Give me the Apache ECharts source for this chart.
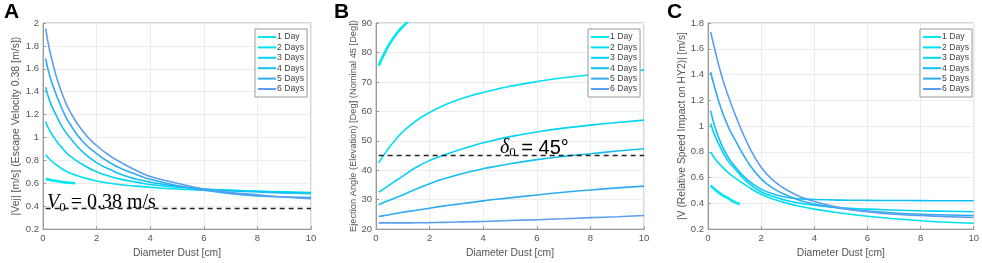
<!DOCTYPE html>
<html lang="en">
<head>
    <meta charset="UTF-8">
    <script src="https://cdn.jsdelivr.net/npm/echarts@6/dist/echarts.min.js"></script>
    <title>Dust ejection</title>
    <style>
        body { margin: 0; background: #fff; }
    </style>
</head>
<body>
<div id="main" style="width: 982px;height:263px;"></div>
<script type="text/javascript">

    // legend names and colours
    var dayNames = ['1 Day', '2 Days', '3 Days', '4 Days', '5 Days', '6 Days'];
    var dayColors = ['#00e8f0', '#00def2', '#00d4f4', '#12c0f2', '#30aaf0', '#5c9ef0'];

    // shared x (diameter, cm)
    var xShort = [0.1, 0.25, 0.5, 0.75, 1, 1.2];
    var xLong = [0.1, 0.25, 0.5, 0.75, 1, 1.5, 2, 2.5, 3, 3.5, 4, 5, 6, 7, 8, 9, 10];

    // A: |Vej| [m/s]
    var velA1 = [0.64, 0.63, 0.62, 0.61, 0.605, 0.6];
    var velA2 = [0.85, 0.81, 0.76, 0.72, 0.69, 0.65, 0.62, 0.6, 0.585, 0.575, 0.565, 0.55, 0.54, 0.535, 0.53, 0.525, 0.52];
    var velA3 = [1.14, 1.06, 0.97, 0.9, 0.84, 0.76, 0.7, 0.66, 0.63, 0.61, 0.59, 0.565, 0.55, 0.54, 0.53, 0.52, 0.515];
    var velA4 = [1.44, 1.32, 1.19, 1.08, 1.0, 0.87, 0.78, 0.72, 0.67, 0.635, 0.61, 0.575, 0.55, 0.535, 0.525, 0.515, 0.51];
    var velA5 = [1.69, 1.54, 1.37, 1.23, 1.12, 0.96, 0.86, 0.78, 0.72, 0.675, 0.635, 0.58, 0.54, 0.51, 0.49, 0.48, 0.475];
    var velA6 = [1.95, 1.76, 1.53, 1.36, 1.23, 1.05, 0.93, 0.84, 0.77, 0.71, 0.66, 0.6, 0.55, 0.52, 0.5, 0.48, 0.465];
    var escapeX = [0.1, 10];
    var escapeV = [0.38, 0.38];

    // B: ejection angle [deg]
    var angB1 = [75.5, 78.5, 82.8, 86.2, 88.8, 90.5];
    var angB2 = [42.5, 44.6, 47.8, 50.6, 53, 56.8, 59.6, 61.9, 63.7, 65.2, 66.4, 68.5, 70.1, 71.4, 72.4, 73.3, 74];
    var angB3 = [32.5, 33.4, 35, 36.5, 38, 41, 43.3, 45, 46.6, 48, 49.3, 51.4, 53, 54.3, 55.3, 56.2, 57];
    var angB4 = [28.3, 28.9, 29.8, 30.7, 31.6, 33.6, 35.4, 37, 38.3, 39.5, 40.5, 42.2, 43.6, 44.7, 45.6, 46.5, 47.3];
    var angB5 = [24.3, 24.5, 24.9, 25.3, 25.7, 26.4, 27.1, 27.8, 28.4, 29, 29.6, 30.6, 31.6, 32.5, 33.3, 34, 34.6];
    var angB6 = [22.1, 22.1, 22.1, 22.1, 22.1, 22.15, 22.2, 22.3, 22.4, 22.5, 22.6, 22.9, 23.2, 23.5, 23.9, 24.2, 24.6];
    var nominalX = [0.1, 10];
    var nominalA = [45, 45];

    // C: relative impact speed [m/s]
    var spdC1 = [0.54, 0.51, 0.47, 0.44, 0.41, 0.395];
    var spdC2 = [0.8, 0.75, 0.69, 0.64, 0.6, 0.53, 0.47, 0.43, 0.4, 0.375, 0.355, 0.325, 0.3, 0.28, 0.265, 0.253, 0.245];
    var spdC3 = [1.02, 0.93, 0.82, 0.73, 0.67, 0.56, 0.49, 0.45, 0.42, 0.4, 0.385, 0.365, 0.355, 0.348, 0.342, 0.338, 0.335];
    var spdC4 = [1.12, 1.0, 0.86, 0.76, 0.69, 0.58, 0.51, 0.47, 0.445, 0.435, 0.43, 0.425, 0.423, 0.422, 0.421, 0.42, 0.42];
    var spdC5 = [1.42, 1.3, 1.13, 1.0, 0.9, 0.72, 0.59, 0.51, 0.46, 0.42, 0.395, 0.36, 0.34, 0.325, 0.315, 0.31, 0.305];
    var spdC6 = [1.73, 1.6, 1.4, 1.24, 1.1, 0.86, 0.68, 0.57, 0.5, 0.45, 0.415, 0.365, 0.335, 0.315, 0.305, 0.297, 0.29];

    var panels = [
        { curves: [velA1, velA2, velA3, velA4, velA5, velA6], ref: escapeV, refX: escapeX,
          min: 0.2, max: 2, step: 0.2, name: '|Vej| [m/s] (Escape Velocity 0.38 [m/s])', left: 43, gap: 21, nameSize: 10.5 },
        { curves: [angB1, angB2, angB3, angB4, angB5, angB6], ref: nominalA, refX: nominalX,
          min: 20, max: 90, step: 10, name: 'Ejection Angle (Elevation) [Deg] (Nominal 45 [Deg])', left: 376, gap: 17, nameSize: 9.3 },
        { curves: [spdC1, spdC2, spdC3, spdC4, spdC5, spdC6], ref: null,
          min: 0.2, max: 1.8, step: 0.2, name: '|V (Relative Speed Impact on HY2)| [m/s]', left: 708, gap: 20, nameSize: 10.3 }
    ];

    var font = 'Liberation Sans, Arial, sans-serif';
    var grid = [], xAxis = [], yAxis = [], series = [], legend = [];

    function pairs(xs, ys) {
        return ys.map(function (y, i) { return [xs[i], y]; });
    }

    panels.forEach(function (p, k) {
        grid.push({ left: p.left, width: 268, top: 23, height: 212, show: true,
            borderColor: '#b0b0b0', borderWidth: 1, backgroundColor: '#fff' });
        xAxis.push({
            type: 'value', gridIndex: k, min: 0, max: 10, interval: 2,
            name: 'Diameter Dust [cm]', nameLocation: 'middle', nameGap: 15,
            nameTextStyle: { fontFamily: font, fontSize: 10.3, color: '#555' },
            axisLine: { lineStyle: { color: '#999' } },
            axisTick: { inside: true, length: 3, lineStyle: { color: '#999' } },
            axisLabel: { fontFamily: font, fontSize: 9.5, color: '#555', margin: 4 },
            splitLine: { show: true, lineStyle: { color: '#ececec' } }
        });
        yAxis.push({
            type: 'value', gridIndex: k, min: p.min, max: p.max, interval: p.step,
            name: p.name, nameLocation: 'middle', nameGap: p.gap,
            nameTextStyle: { fontFamily: font, fontSize: p.nameSize, color: '#555' },
            axisLine: { show: true, lineStyle: { color: '#999' } },
            axisTick: { show: true, inside: true, length: 3, lineStyle: { color: '#999' } },
            axisLabel: { fontFamily: font, fontSize: 9.5, color: '#555', margin: 4,
                formatter: function (v) { return String(Math.round(v * 10) / 10); } },
            splitLine: { show: true, lineStyle: { color: '#ececec' } }
        });
        p.curves.forEach(function (ys, d) {
            series.push({
                name: dayNames[d], type: 'line', xAxisIndex: k, yAxisIndex: k,
                data: pairs(d === 0 ? xShort : xLong, ys),
                smooth: 0.5, showSymbol: false, silent: true,
                clip: true, z: 3,
                lineStyle: { color: dayColors[d], width: d === 0 ? 2.6 : 1.6 },
                itemStyle: { color: dayColors[d] }
            });
        });
        if (p.ref) {
            series.push({
                name: 'ref', type: 'line', xAxisIndex: k, yAxisIndex: k,
                data: pairs(p.refX, p.ref), showSymbol: false, silent: true, z: 4,
                lineStyle: { color: '#222', width: 1.5, type: [5, 4] }
            });
        }
        legend.push({
            data: dayNames.map(function (n, d) {
                return { name: n, itemStyle: { color: dayColors[d] } };
            }),
            orient: 'vertical', left: p.left + 212, top: 29,
            itemWidth: 18, itemHeight: 2, itemGap: 0.4,
            icon: 'rect', selectedMode: false,
            backgroundColor: '#fff', borderColor: '#999', borderWidth: 1,
            padding: [3, 3, 3, 3],
            textStyle: { fontFamily: font, fontSize: 8.7, color: '#444', lineHeight: 10, padding: [0, 0, 0, -4] }
        });
    });

    var myChart = echarts.init(document.getElementById('main'));

    var option = {
        animation: false,
        grid: grid, xAxis: xAxis, yAxis: yAxis, series: series, legend: legend,
        graphic: [
            { type: 'text', left: 4, top: 2, style: { text: 'A', font: 'bold 21px ' + font, fill: '#000' } },
            { type: 'text', left: 334, top: 2, style: { text: 'B', font: 'bold 21px ' + font, fill: '#000' } },
            { type: 'text', left: 667, top: 2, style: { text: 'C', font: 'bold 21px ' + font, fill: '#000' } },
            { type: 'text', left: 47, top: 193, z: 10, style: {
                text: '{i|V}{s|0}{n| = 0.38 m/s}',
                rich: {
                    i: { font: 'italic 20px Liberation Serif, serif', fill: '#000' },
                    s: { font: '13px Liberation Serif, serif', fill: '#000', verticalAlign: 'bottom', padding: [10, 0, 0, 0] },
                    n: { font: '20px Liberation Serif, serif', fill: '#000' }
                }
            } },
            { type: 'text', left: 500, top: 138, z: 10, style: {
                text: '{i|δ}{s|0}{n| = 45°}',
                rich: {
                    i: { font: 'italic 20px Liberation Serif, serif', fill: '#000' },
                    s: { font: '13px Liberation Serif, serif', fill: '#000', verticalAlign: 'bottom', padding: [10, 0, 0, 0] },
                    n: { font: '20px Liberation Sans, sans-serif', fill: '#000' }
                }
            } }
        ]
    };

    myChart.setOption(option);

</script>
</body>
</html>
